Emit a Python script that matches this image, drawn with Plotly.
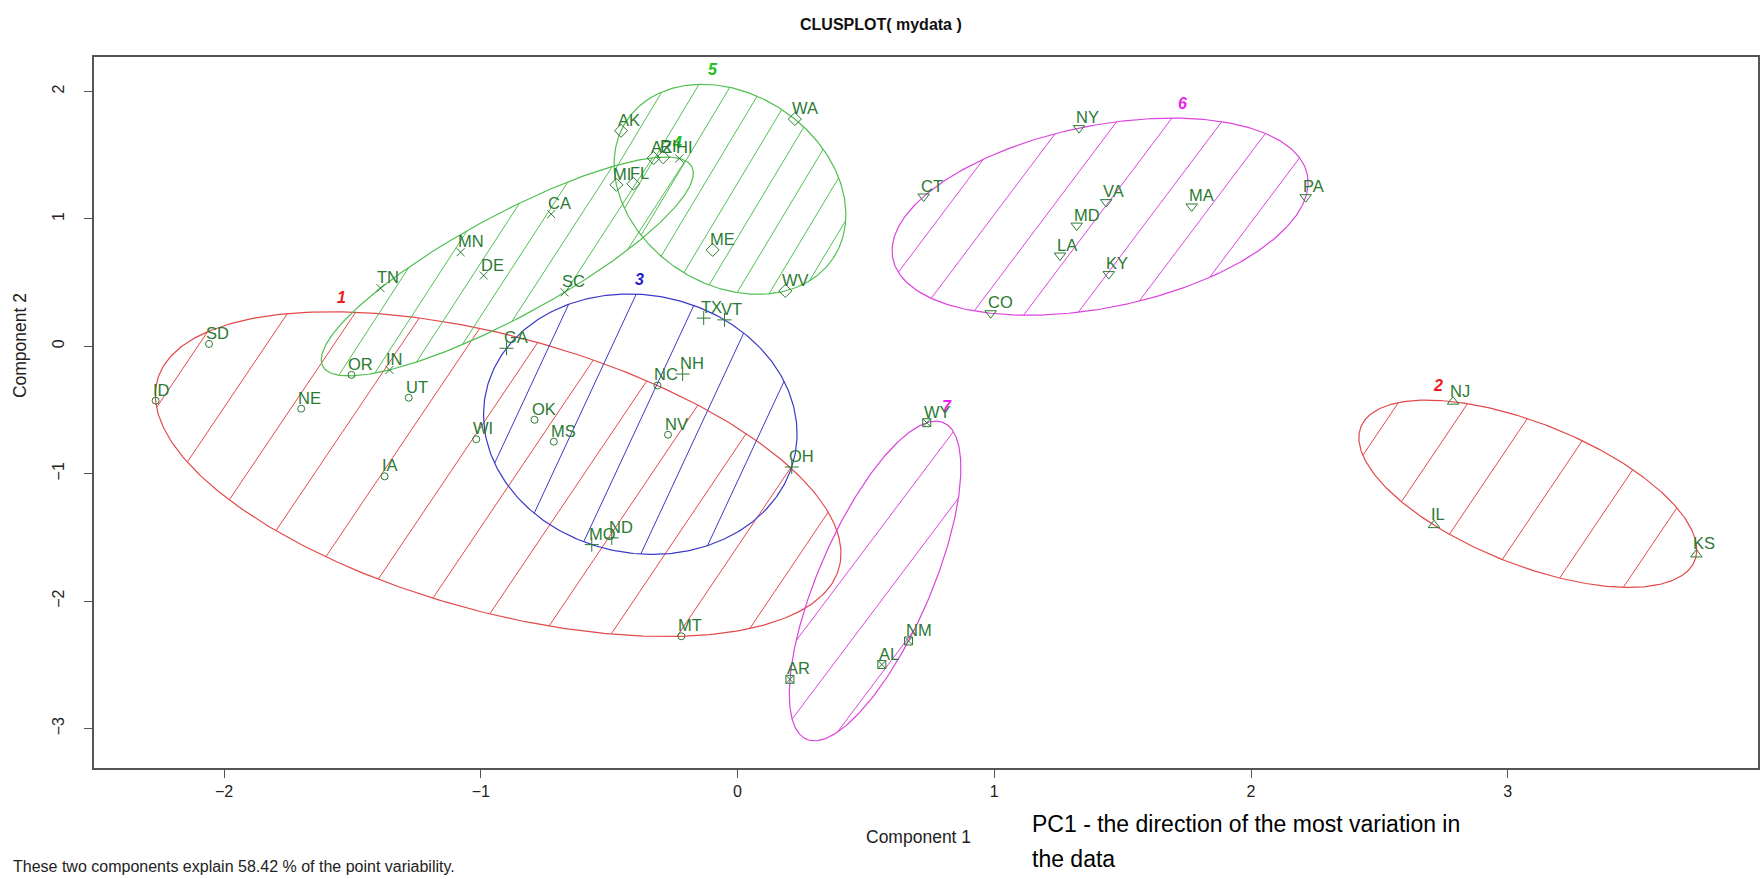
import numpy as np
import plotly.graph_objects as go

# ---- data: first two principal components per state and cluster membership ----
states = ["ID", "SD", "NE", "OR", "UT", "IA", "WI", "OK", "MS", "NC", "NV", "MT",
          "NJ", "IL", "KS",
          "GA", "TX", "VT", "NH", "OH", "MO", "ND",
          "TN", "MN", "DE", "CA", "SC", "IN", "HI",
          "AK", "WA", "MI", "FL", "AZ", "RI", "ME", "WV",
          "NY", "CT", "VA", "MD", "LA", "KY", "MA", "PA", "CO",
          "WY", "NM", "AL", "AR"]
comp1 = [-2.267, -2.059, -1.700, -1.504, -1.281, -1.375, -1.018, -0.791, -0.716, -0.312, -0.271, -0.219,
         2.787, 2.713, 3.735,
         -0.900, -0.132, -0.051, -0.214, 0.211, -0.568, -0.490,
         -1.391, -1.079, -0.989, -0.726, -0.674, -1.356, -0.227,
         -0.454, 0.223, -0.472, -0.406, -0.327, -0.290, -0.097, 0.186,
         1.330, 0.725, 1.436, 1.321, 1.256, 1.446, 1.769, 2.213, 0.986,
         0.737, 0.666, 0.562, 0.204]
comp2 = [-0.427, 0.018, -0.490, -0.225, -0.404, -1.021, -0.730, -0.577, -0.749, -0.308, -0.695, -2.276,
         -0.435, -1.404, -1.634,
         -0.016, 0.221, 0.207, -0.218, -0.948, -1.557, -1.504,
         0.456, 0.738, 0.555, 1.037, 0.423, -0.186, 1.474,
         1.691, 1.783, 1.267, 1.275, 1.477, 1.483, 0.756, 0.434,
         1.712, 1.175, 1.131, 0.947, 0.712, 0.566, 1.097, 1.170, 0.259,
         -0.600, -2.313, -2.498, -2.614]
cluster = [1] * 12 + [2] * 3 + [3] * 7 + [4] * 7 + [5] * 8 + [6] * 9 + [7] * 4

x_ticks = [-2, -1, 0, 1, 2, 3]
y_ticks = [-3, -2, -1, 0, 1, 2]
variability = 58.42

# ---- styling ----
FONT = "Liberation Sans, Arial, sans-serif"
POINT_COL = "#2b7a33"
ellipse_col = {1: "#e24a4a", 2: "#e24a4a", 3: "#3a3ac6", 4: "#52bf52",
               5: "#52bf52", 6: "#dc45dc", 7: "#dc45dc"}
label_col = {1: "#ee1c1c", 2: "#ee1c1c", 3: "#1c1cd0", 4: "#20c020",
             5: "#20c020", 6: "#ee22ee", 7: "#ee22ee"}
marker_sym = {1: "circle-open", 2: "triangle-up-open", 3: "cross-thin-open",
              4: "x-thin-open", 5: "diamond-open", 6: "triangle-down-open",
              7: "square-x-open"}
marker_size = {1: 7, 2: 10, 3: 10, 4: 8, 5: 10, 6: 10, 7: 8}
# shading: line angle (deg, screen space), spacing between lines (px) and phase (px)
hatch_angle = {1: 56, 2: 56, 3: 65, 4: 57, 5: 59, 6: 53, 7: 53}
hatch_gap = {1: 56, 2: 58, 3: 57, 4: 29, 5: 28, 6: 42, 7: 44}
hatch_phase = {1: 0, 2: 0, 3: 0, 4: 0, 5: 0, 6: 0, 7: 40}

W, H = 1762, 879
XR = [-2.507, 3.975]
YR = [-3.31, 2.27]
ML, MR, MT, MB = 94, 2, 57, 111
SX = (W - ML - MR) / (XR[1] - XR[0])
SY = (H - MT - MB) / (YR[1] - YR[0])


def mvee(P, tol=1e-9):
    """Minimum volume enclosing ellipse (Khachiyan); returns A, c with (x-c)'A(x-c) <= 1."""
    P = np.asarray(P, float)
    n, d = P.shape
    Q = np.vstack([P.T, np.ones(n)])
    u = np.ones(n) / n
    for _ in range(200000):
        X = Q @ np.diag(u) @ Q.T
        M = np.einsum("ij,ji->i", Q.T @ np.linalg.inv(X), Q)
        j = int(np.argmax(M))
        step = (M[j] - d - 1) / ((d + 1) * (M[j] - 1))
        nu = (1 - step) * u
        nu[j] += step
        if np.linalg.norm(nu - u) < tol:
            u = nu
            break
        u = nu
    c = P.T @ u
    A = np.linalg.inv(P.T @ np.diag(u) @ P - np.outer(c, c)) / d
    return A, c


fig = go.Figure()
annotations = []

comp1 = np.array(comp1)
comp2 = np.array(comp2)
cluster = np.array(cluster)

for k in sorted(set(cluster.tolist())):
    idx = cluster == k
    pts = np.column_stack([comp1[idx], comp2[idx]])
    A, c = mvee(pts)
    S = np.linalg.inv(A)  # shape matrix
    vals, vecs = np.linalg.eigh(S)
    t = np.linspace(0, 2 * np.pi, 361)
    circ = np.vstack([np.cos(t), np.sin(t)])
    bnd = c[:, None] + vecs @ np.diag(np.sqrt(vals)) @ circ
    fig.add_trace(go.Scatter(x=bnd[0], y=bnd[1], mode="lines",
                             line=dict(color=ellipse_col[k], width=1.2),
                             hoverinfo="skip", showlegend=False))

    # shading lines, computed in screen pixels then mapped back to data units
    D = np.diag([SX, SY])
    Cp = D @ c
    Sp = D @ S @ D
    Bp = np.linalg.inv(Sp)
    th = np.deg2rad(hatch_angle[k])
    dvec = np.array([np.cos(th), np.sin(th)])
    nvec = np.array([-np.sin(th), np.cos(th)])
    half = np.sqrt(nvec @ Sp @ nvec)
    ctr = nvec @ Cp
    g = hatch_gap[k]
    ph = hatch_phase[k]
    hx, hy = [], []
    m0 = int(np.ceil((ctr - half - ph) / g))
    m1 = int(np.floor((ctr + half - ph) / g))
    for m in range(m0, m1 + 1):
        p0 = (m * g + ph) * nvec
        r = p0 - Cp
        a = dvec @ Bp @ dvec
        b = 2 * dvec @ Bp @ r
        cc = r @ Bp @ r - 1
        disc = b * b - 4 * a * cc
        if disc <= 0:
            continue
        t1 = (-b - np.sqrt(disc)) / (2 * a)
        t2 = (-b + np.sqrt(disc)) / (2 * a)
        e1 = p0 + t1 * dvec
        e2 = p0 + t2 * dvec
        hx += [e1[0] / SX, e2[0] / SX, None]
        hy += [e1[1] / SY, e2[1] / SY, None]
    fig.add_trace(go.Scatter(x=hx, y=hy, mode="lines",
                             line=dict(color=ellipse_col[k], width=1),
                             hoverinfo="skip", showlegend=False))

    # cluster number just above the top of its ellipse
    ytop = c[1] + np.sqrt(S[1, 1])
    xtop = c[0] + S[0, 1] / np.sqrt(S[1, 1])
    annotations.append(dict(x=xtop, y=ytop, text=f"<b><i>{k}</i></b>", showarrow=False,
                            xanchor="center", yanchor="bottom", xshift=11, yshift=4,
                            font=dict(family=FONT, size=16, color=label_col[k])))

for k in sorted(set(cluster.tolist())):
    idx = cluster == k
    fig.add_trace(go.Scatter(
        x=comp1[idx], y=comp2[idx], mode="markers",
        marker=dict(symbol=marker_sym[k], size=marker_size[k], color=POINT_COL,
                    line=dict(color=POINT_COL, width=1)),
        hoverinfo="skip", showlegend=False))

for s, xv, yv in zip(states, comp1, comp2):
    annotations.append(dict(x=xv, y=yv, text=s, showarrow=False, xanchor="left",
                            yanchor="bottom", xshift=-5, yshift=0,
                            font=dict(family=FONT, size=16.5, color=POINT_COL)))


def px_to_paper(px, py):
    return (px - ML) / (W - ML - MR), (H - MB - py) / (H - MT - MB)


def add_text(text, px, py, size, color="#222", xanchor="center", textangle=0, bold=False):
    xp, yp = px_to_paper(px, py)
    annotations.append(dict(xref="paper", yref="paper", x=xp, y=yp,
                            text=f"<b>{text}</b>" if bold else text,
                            showarrow=False, xanchor=xanchor, yanchor="middle",
                            textangle=textangle,
                            font=dict(family=FONT, size=size, color=color)))


add_text("CLUSPLOT( mydata )", 882, 25, 16, color="#111", bold=True)
add_text("Component 1", 919, 837, 17.5)
add_text("Component 2", 20, 346, 17.5, textangle=-90)
add_text(f"These two components explain {variability} % of the point variability.",
         11, 866, 16, xanchor="left")
add_text("PC1 - the direction of the most variation in", 1031, 824, 23,
         color="#000", xanchor="left")
add_text("the data", 1031, 859, 23, color="#000", xanchor="left")

axis_common = dict(showgrid=False, zeroline=False, showline=True, mirror=True,
                   linecolor="#555", linewidth=1.5, ticks="outside", ticklen=8,
                   tickcolor="#555", tickwidth=1,
                   tickfont=dict(family=FONT, size=16, color="#222"))

fig.update_layout(
    width=W, height=H,
    margin=dict(l=ML, r=MR, t=MT, b=MB),
    paper_bgcolor="white", plot_bgcolor="white",
    xaxis=dict(range=XR, tickvals=x_ticks, **axis_common),
    yaxis=dict(range=YR, tickvals=y_ticks, tickangle=-90, ticklabelstandoff=14,
               **axis_common),
    annotations=annotations,
    showlegend=False,
)

fig.write_html("out.html")
